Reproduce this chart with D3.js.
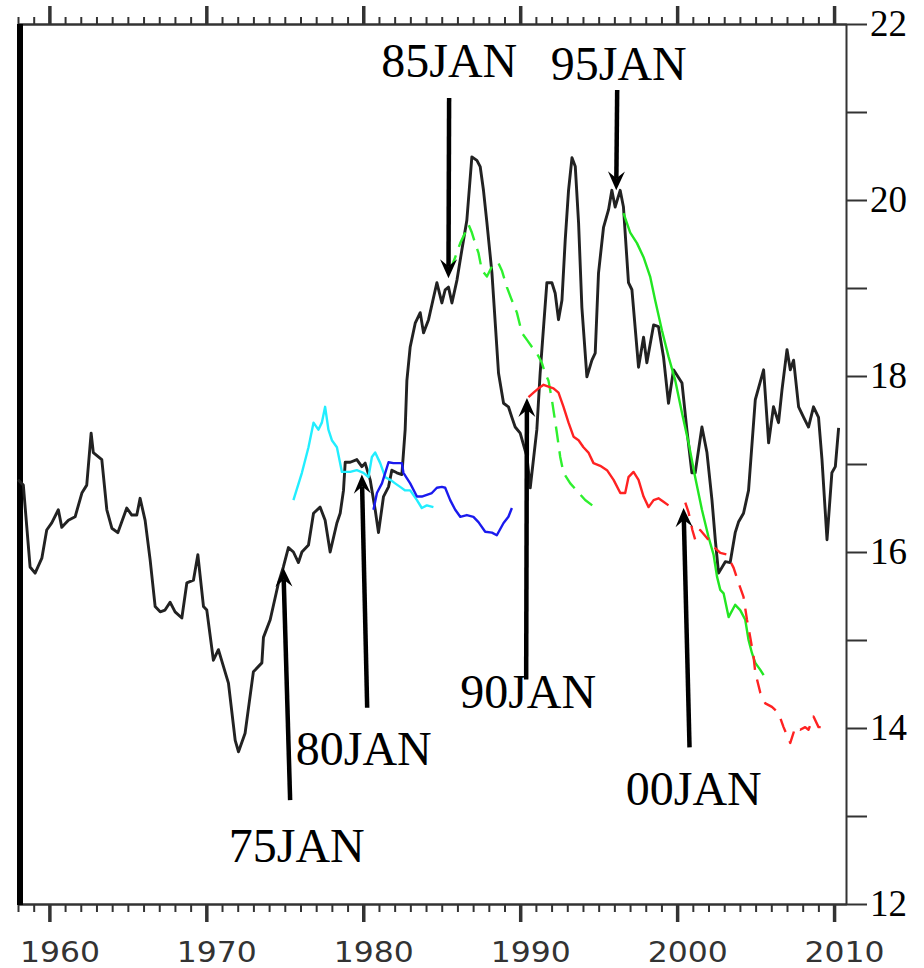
<!DOCTYPE html>
<html>
<head>
<meta charset="utf-8">
<script src="https://cdn.jsdelivr.net/npm/d3@7"></script>
<style>
  html, body { margin: 0; padding: 0; background: #fff; }
  svg { display: block; }
</style>
</head>
<body>
<div id="chart"></div>
<script>
// Observed index (black)
const obsYears = [1958.00,1958.34,1958.77,1959.09,1959.52,1959.83,1960.15,1960.57,1960.79,1961.21,
  1961.64,1962.07,1962.38,1962.66,1962.80,1963.34,1963.66,1963.98,1964.36,1964.93,
  1965.25,1965.57,1965.78,1966.10,1966.42,1966.74,1967.06,1967.37,1967.69,1968.01,
  1968.44,1968.76,1969.18,1969.46,1969.82,1970.03,1970.45,1970.77,1971.41,1971.84,
  1972.05,1972.47,1973.00,1973.54,1973.64,1974.07,1974.60,1974.91,1975.23,1975.55,
  1975.87,1976.09,1976.51,1976.83,1977.25,1977.57,1977.89,1978.32,1978.53,1978.74,
  1978.85,1979.17,1979.59,1979.91,1980.12,1980.44,1980.76,1980.97,1981.29,1981.61,
  1981.82,1982.14,1982.46,1982.67,1982.78,1982.99,1983.31,1983.63,1983.84,1984.16,
  1984.69,1985.01,1985.22,1985.43,1985.65,1985.97,1986.28,1986.60,1986.92,1987.24,
  1987.45,1987.66,1987.88,1988.20,1988.41,1988.62,1988.94,1989.25,1989.47,1989.68,
  1990.00,1990.43,1990.64,1991.06,1991.27,1991.49,1991.70,1992.02,1992.23,1992.44,
  1992.66,1992.87,1993.08,1993.30,1993.51,1993.72,1993.93,1994.25,1994.57,1994.78,
  1994.99,1995.31,1995.63,1995.84,1996.05,1996.37,1996.58,1996.90,1997.12,1997.54,
  1997.86,1998.07,1998.50,1998.81,1999.13,1999.45,1999.77,2000.31,2000.62,2000.94,
  2001.15,2001.58,2001.90,2002.22,2002.43,2002.64,2003.07,2003.38,2003.70,2003.91,
  2004.23,2004.55,2004.98,2005.51,2005.83,2006.14,2006.46,2006.68,2007.00,2007.21,
  2007.42,2007.74,2008.06,2008.37,2008.69,2009.01,2009.23,2009.55,2009.86,2010.08,2010.29];
const obsValues = [16.82,16.76,15.83,15.76,15.93,16.25,16.33,16.48,16.28,16.36,
  16.40,16.67,16.76,17.35,17.13,17.05,16.48,16.27,16.22,16.50,
  16.42,16.42,16.61,16.36,15.91,15.38,15.32,15.34,15.43,15.32,
  15.25,15.65,15.68,15.97,15.38,15.34,14.77,14.89,14.51,13.86,
  13.73,13.94,14.64,14.74,15.03,15.23,15.65,15.83,16.05,16.00,
  15.88,16.00,16.08,16.44,16.51,16.36,16.00,16.33,16.44,16.70,
  17.02,17.02,17.05,16.97,17.01,16.82,16.48,16.22,16.63,16.74,
  16.93,16.90,16.88,17.39,17.95,18.33,18.60,18.72,18.49,18.64,
  19.06,18.83,18.98,19.01,18.83,19.09,19.43,19.77,20.49,20.45,
  20.38,20.11,19.74,19.17,18.60,18.03,17.69,17.65,17.53,17.42,
  17.35,17.08,16.73,17.39,18.03,18.56,19.06,19.06,18.94,18.64,
  18.86,19.55,20.11,20.48,20.38,19.74,18.78,17.99,18.18,18.26,
  19.17,19.69,19.89,20.11,19.92,20.11,19.92,19.06,18.98,18.10,
  18.44,18.15,18.58,18.56,18.22,17.69,18.07,17.92,17.39,16.90,
  16.90,17.42,17.13,16.59,16.14,15.76,15.89,15.88,16.22,16.34,
  16.44,16.70,17.73,18.07,17.24,17.65,17.47,17.84,18.30,18.07,
  18.18,17.65,17.53,17.42,17.65,17.53,17.05,16.14,16.90,16.97,17.41];

// Forecast runs
const f75Years = [1975.55,1976.09,1976.51,1976.83,1977.14,1977.36,1977.57,1977.78,1978.00,1978.32,1978.64,1979.17,1979.59,1980.01,1980.33,1980.55,1980.76,1981.08,1981.40,1981.72,1982.03,1982.35,1982.67,1982.99,1983.42,1983.73,1984.05,1984.47];
const f75Values = [16.59,16.90,17.19,17.47,17.39,17.47,17.65,17.39,17.27,17.19,16.91,16.91,16.93,16.90,16.85,17.08,17.13,17.01,16.85,16.82,16.78,16.74,16.70,16.70,16.59,16.50,16.53,16.51];

const f80Years = [1980.65,1980.87,1981.19,1981.40,1981.61,1981.92,1982.24,1982.46,1982.56,1982.99,1983.42,1983.73,1984.05,1984.37,1984.69,1985.01,1985.22,1985.54,1985.86,1986.18,1986.60,1987.02,1987.34,1987.77,1988.20,1988.51,1988.94,1989.25,1989.47];
const f80Values = [16.48,16.67,16.78,16.90,17.02,17.01,17.01,17.01,16.90,16.78,16.63,16.63,16.65,16.67,16.73,16.74,16.73,16.59,16.48,16.40,16.42,16.40,16.34,16.23,16.22,16.19,16.33,16.40,16.50];

const f85Years = [1985.54,1985.86,1986.18,1986.50,1986.71,1986.92,1987.13,1987.34,1987.56,1987.88,1988.30,1988.62,1988.83,1989.15,1989.47,1989.79,1990.11,1990.43,1990.75,1991.06,1991.38,1991.59,1991.80,1992.02,1992.34,1992.55,1992.76,1993.19,1993.70,1994.14,1994.59];
const f85Values = [19.20,19.35,19.51,19.63,19.72,19.63,19.51,19.40,19.20,19.13,19.28,19.28,19.20,19.01,18.86,18.72,18.49,18.41,18.33,18.26,18.15,18.03,17.95,17.73,17.35,17.08,16.90,16.78,16.68,16.59,16.53];

const f90Years = [1990.53,1990.85,1991.17,1991.49,1991.80,1992.12,1992.44,1992.76,1993.08,1993.40,1993.72,1994.03,1994.35,1994.67,1995.10,1995.53,1995.95,1996.38,1996.69,1996.90,1997.22,1997.54,1997.86,1998.18,1998.50,1998.81,1999.13,1999.45];
const f90Values = [17.76,17.81,17.86,17.90,17.88,17.86,17.81,17.65,17.47,17.31,17.27,17.19,17.13,17.01,16.98,16.93,16.82,16.67,16.67,16.85,16.91,16.82,16.63,16.51,16.59,16.61,16.57,16.53];

const f95Years = [1996.58,1997.01,1997.44,1997.86,1998.28,1998.60,1999.03,1999.45,1999.88,2000.31,2000.73,2001.15,2001.58,2002.00,2002.32,2002.54,2002.75,2002.96,2003.28,2003.70,2004.02,2004.34,2004.55,2004.77,2004.98,2005.30,2005.51];
const f95Values = [19.85,19.63,19.51,19.35,19.13,18.86,18.52,18.22,17.95,17.58,17.24,16.85,16.48,16.17,15.97,15.72,15.57,15.53,15.26,15.40,15.34,15.23,15.00,14.85,14.74,14.66,14.60];

const f00Years = [2000.52,2000.73,2000.97,2001.15,2001.47,2001.90,2002.32,2002.75,2003.18,2003.60,2003.91,2004.23,2004.45,2004.66,2004.87,2004.98,2005.30,2005.62,2006.04,2006.46,2006.78,2007.21,2007.53,2007.84,2008.16,2008.37,2008.69,2009.01,2009.33];
const f00Values = [16.56,16.45,16.25,16.14,16.25,16.16,16.06,15.99,15.97,15.82,15.65,15.49,15.23,15.03,14.81,14.63,14.40,14.28,14.24,14.17,14.01,13.83,14.01,13.98,14.01,13.98,14.13,14.01,14.01];

// Arrow annotations: label, tip (year, value), tail (year, value), text anchor (year, value)
const noteLabels = ["75JAN", "80JAN", "85JAN", "90JAN", "95JAN", "00JAN"];
const noteTipYears = [1974.91, 1979.91, 1985.43, 1990.43, 1996.12, 2000.41];
const noteTipValues = [15.82, 16.88, 19.11, 17.75, 20.11, 16.50];
const noteTailYears = [1975.34, 1980.25, 1985.47, 1990.38, 1996.18, 2000.79];
const noteTailValues = [13.18, 14.23, 21.16, 14.55, 21.25, 13.78];
const noteTextYears = [1975.76, 1980.03, 1985.48, 1990.51, 1996.28, 2001.06];
const noteTextValues = [12.48, 13.58, 21.40, 14.23, 21.36, 13.13];

// Axis ticks
const yearTicks = d3.range(1958, 2011, 1);
const decadeTicks = [1960, 1970, 1980, 1990, 2000, 2010];
const valueTicks = d3.range(12, 23, 1);

const W = 924, H = 968;
const plotLeft = 18, plotRight = 846, plotTop = 24, plotBottom = 904;

const svg = d3.select("#chart").append("svg")
  .attr("width", W).attr("height", H);

const x = d3.scaleLinear().domain([1958, 2010.76]).range([plotLeft, plotRight]);
const y = d3.scaleLinear().domain([12, 22]).range([plotBottom, plotTop]);

const serif = "'Liberation Serif', 'Times New Roman', serif";
const sans = "'DejaVu Sans', 'Liberation Sans', sans-serif";
const axisColor = "#333";

// Bottom axis: yearly minor ticks, decade major ticks with labels
const gBottomMinor = svg.append("g").attr("transform", `translate(0,${plotBottom})`)
  .call(d3.axisBottom(x).tickValues(yearTicks).tickSize(8).tickSizeOuter(0).tickFormat(""));
const gBottom = svg.append("g").attr("transform", `translate(0,${plotBottom})`)
  .call(d3.axisBottom(x).tickValues(decadeTicks).tickSize(18).tickSizeOuter(0).tickFormat(d3.format("d")));
gBottom.selectAll("text")
  .attr("y", 58).attr("dy", null).attr("dx", 10)
  .attr("fill", "#333")
  .attr("font-family", sans).attr("font-size", 28)
  .attr("textLength", 80).attr("lengthAdjust", "spacingAndGlyphs");

// Top axis
const gTopMinor = svg.append("g").attr("transform", `translate(0,${plotTop})`)
  .call(d3.axisTop(x).tickValues(yearTicks).tickSize(7).tickSizeOuter(0).tickFormat(""));
const gTop = svg.append("g").attr("transform", `translate(0,${plotTop})`)
  .call(d3.axisTop(x).tickValues(decadeTicks).tickSize(18).tickSizeOuter(0).tickFormat(""));

// Right axis
const gRight = svg.append("g").attr("transform", `translate(${plotRight},0)`)
  .call(d3.axisRight(y).tickValues(valueTicks).tickSize(21).tickSizeOuter(0)
    .tickFormat(d => d % 2 === 0 ? d : ""));
gRight.selectAll("text")
  .attr("x", 24).attr("dy", "0.3em")
  .attr("fill", "#000")
  .attr("font-family", serif).attr("font-size", 37);

svg.selectAll(".domain").attr("stroke", axisColor).attr("stroke-width", 2);
svg.selectAll(".tick line").attr("stroke", axisColor).attr("stroke-width", 2);
gBottom.selectAll(".tick line").attr("stroke-width", 3.5);
gTop.selectAll(".tick line").attr("stroke-width", 3.5);

// Thick left frame bar
svg.append("rect")
  .attr("x", plotLeft - 1).attr("y", plotTop).attr("width", 6).attr("height", plotBottom - plotTop + 1)
  .attr("fill", "#000");

const line = d3.line().x(d => x(d[0])).y(d => y(d[1]));
const plot = svg.append("g");

// Observed series
plot.append("path")
  .datum(d3.zip(obsYears, obsValues))
  .attr("d", line)
  .attr("fill", "none").attr("stroke", "#222")
  .attr("stroke-width", 2.9).attr("stroke-linejoin", "round");

// Forecast series
const forecasts = [
  { yrs: f75Years, vals: f75Values, color: "#22eeff", dash: null },
  { yrs: f80Years, vals: f80Values, color: "#1a1aee", dash: null },
  { yrs: f85Years, vals: f85Values, color: "#2ef02e", dash: "16,9" },
  { yrs: f90Years, vals: f90Values, color: "#ff2222", dash: null },
  { yrs: f95Years, vals: f95Values, color: "#22e622", dash: null },
  { yrs: f00Years, vals: f00Values, color: "#ff2222", dash: "14,10" }
];
forecasts.forEach(f => {
  plot.append("path")
    .datum(d3.zip(f.yrs, f.vals))
    .attr("d", line)
    .attr("fill", "none").attr("stroke", f.color)
    .attr("stroke-width", 2.4).attr("stroke-linejoin", "round")
    .attr("stroke-dasharray", f.dash);
});

// Annotation arrows and labels
const notes = svg.append("g");
noteLabels.forEach((lab, i) => {
  const tx = x(noteTipYears[i]), ty = y(noteTipValues[i]);
  const sx = x(noteTailYears[i]), sy = y(noteTailValues[i]);
  const dx = tx - sx, dy = ty - sy, L = Math.hypot(dx, dy);
  const ux = dx / L, uy = dy / L, px = -uy, py = ux;
  const headLen = 19, headHalf = 8.5, notch = 12;
  notes.append("line")
    .attr("x1", sx).attr("y1", sy)
    .attr("x2", tx - ux * notch).attr("y2", ty - uy * notch)
    .attr("stroke", "#000").attr("stroke-width", 4.5);
  const pts = [
    [tx, ty],
    [tx - ux * headLen + px * headHalf, ty - uy * headLen + py * headHalf],
    [tx - ux * notch, ty - uy * notch],
    [tx - ux * headLen - px * headHalf, ty - uy * headLen - py * headHalf]
  ];
  notes.append("path")
    .attr("d", "M" + pts.map(p => p.join(",")).join("L") + "Z")
    .attr("fill", "#000");
  notes.append("text")
    .attr("x", x(noteTextYears[i])).attr("y", y(noteTextValues[i]))
    .attr("text-anchor", "middle")
    .attr("font-family", serif).attr("font-size", 48)
    .attr("fill", "#000")
    .text(lab);
});
</script>
</body>
</html>
